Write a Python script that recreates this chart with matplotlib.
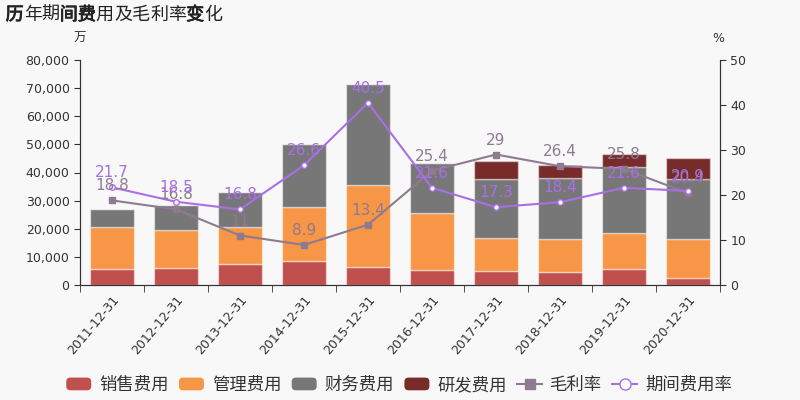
import matplotlib
matplotlib.use("Agg")
import matplotlib.pyplot as plt
import matplotlib.patheffects as pe
import matplotlib.transforms as mtransforms
import numpy as np
from matplotlib.ticker import FuncFormatter, MultipleLocator
from matplotlib.patches import FancyBboxPatch, Rectangle
from matplotlib.lines import Line2D
from matplotlib.legend_handler import HandlerPatch

plt.rcParams['font.family'] = ['DejaVu Sans', 'Noto Sans CJK SC']

categories = ["2011-12-31", "2012-12-31", "2013-12-31", "2014-12-31", "2015-12-31",
              "2016-12-31", "2017-12-31", "2018-12-31", "2019-12-31", "2020-12-31"]
sales = [5700, 6200, 7600, 8600, 6500, 5300, 5100, 4600, 5700, 2600]
admin = [15000, 13400, 13000, 19000, 28900, 20300, 11700, 11600, 12800, 13900]
finance = [6200, 8800, 12500, 22600, 35900, 17700, 20900, 21800, 23500, 21200]
rnd = [0, 0, 0, 0, 0, 0, 6300, 4700, 4500, 7300]
gross_margin = [18.8, 16.8, 11, 8.9, 13.4, 25.4, 29, 26.4, 25.8, 20.4]
expense_rate = [21.7, 18.5, 16.8, 26.6, 40.5, 21.6, 17.3, 18.4, 21.6, 20.9]
title = "历年期间费用及毛利率变化"
title_bold = "历间费变"

c_sales = "#c0504d"
c_admin = "#f79646"
c_fin = "#777777"
c_rnd = "#772c2a"
c_gm = "#8e7b8f"
c_er = "#a96fe6"
txt = "#333333"

fig = plt.figure(figsize=(8, 4), dpi=100, facecolor="#f8f8f8")
ax = fig.add_axes([0.1, 0.2875, 0.8, 0.5625])
ax.set_facecolor("#f8f8f8")
ax2 = ax.twinx()

x = np.arange(len(categories))
w = 0.7
ek = dict(edgecolor=(1, 1, 1, 0.45), linewidth=1.0, width=w, zorder=2)
b = np.zeros(len(x))
for vals, col in [(sales, c_sales), (admin, c_admin), (finance, c_fin), (rnd, c_rnd)]:
    v = np.array(vals, dtype=float)
    ax.bar(x, v, bottom=b, color=col, **ek)
    b = b + v

ax.set_ylim(0, 80000)
ax.set_xlim(-0.5, len(x) - 0.5)
ax.yaxis.set_major_locator(MultipleLocator(10000))
ax.yaxis.set_major_formatter(FuncFormatter(lambda v, p: f"{int(v):,}"))
ax.set_xticks(x)
ax.set_xticks(np.arange(len(x) + 1) - 0.5, minor=True)
ax.set_xticklabels(categories, rotation=50, ha="right", rotation_mode="anchor", fontsize=9, color=txt)
ax.tick_params(axis="x", which="major", length=0, pad=6)
ax.tick_params(axis="x", which="minor", length=5, color=txt)
ax.tick_params(axis="y", labelsize=9, colors=txt, length=4)

ax2.set_ylim(0, 50)
ax2.yaxis.set_major_locator(MultipleLocator(10))
ax2.tick_params(axis="y", labelsize=9, colors=txt, length=4)

for a in (ax, ax2):
    a.spines["top"].set_visible(False)
    a.spines["left"].set_color(txt)
    a.spines["right"].set_color(txt)
    a.spines["bottom"].set_color(txt)

ax2.plot(x, gross_margin, color=c_gm, lw=1.5, marker="s", ms=4, zorder=5)
ax2.plot(x, expense_rate, color=c_er, lw=1.5, marker="o", ms=4, mfc="white",
         mec=c_er, mew=1, zorder=6)
for xi, v in zip(x, gross_margin):
    ax2.annotate(f"{v:g}", (xi, v), xytext=(0, 5), textcoords="offset points",
                 ha="center", va="bottom", fontsize=11, color=c_gm, zorder=7)
for xi, v in zip(x, expense_rate):
    ax2.annotate(f"{v:g}", (xi, v), xytext=(0, 5), textcoords="offset points",
                 ha="center", va="bottom", fontsize=11, color=c_er, zorder=8)

# Title: full-width CJK glyphs advance exactly 1 em, place char by char
tcol = "#222222"
tsize = 13
bold_fx = [pe.withStroke(linewidth=0.6, foreground=tcol)]
for i, ch in enumerate(title):
    tr = mtransforms.offset_copy(fig.transFigure, fig=fig, x=i * tsize, y=0, units="points")
    fig.text(0.007, 0.94, ch, transform=tr, fontsize=tsize, color=tcol,
             va="bottom", ha="left", family=["Noto Sans CJK SC"],
             path_effects=bold_fx if ch in title_bold else None)

fig.text(0.1, 0.895, "万", fontsize=9, color=txt, ha="center", family=["Noto Sans CJK SC"])
fig.text(0.898, 0.895, "%", fontsize=9, color=txt, ha="center")


class RoundHandler(HandlerPatch):
    def create_artists(self, legend, orig_handle, xdescent, ydescent, width, height, fontsize, trans):
        p = FancyBboxPatch((-xdescent, -ydescent), width, height,
                           boxstyle="round,pad=0,rounding_size=3",
                           facecolor=orig_handle.get_facecolor(), edgecolor="none", transform=trans)
        return [p]


handles = [Rectangle((0, 0), 1, 1, facecolor=c) for c in (c_sales, c_admin, c_fin, c_rnd)]
handles += [Line2D([], [], color=c_gm, lw=1.5, marker="s", ms=7),
            Line2D([], [], color=c_er, lw=1.5, marker="o", ms=8, mfc="white", mec=c_er)]
labels = ["销售费用", "管理费用", "财务费用", "研发费用", "毛利率", "期间费用率"]
hm = {h: RoundHandler() for h in handles[:4]}
leg = fig.legend(handles, labels, loc="center", bbox_to_anchor=(0.499, 0.0375), ncol=6,
                 frameon=False, handlelength=1.44, handleheight=0.75,
                 columnspacing=0.6, handletextpad=0.45, handler_map=hm,
                 prop={"family": ["Noto Sans CJK SC"], "size": 12.5})
for t in leg.get_texts():
    t.set_color(txt)

fig.savefig("out.png", dpi=100, facecolor=fig.get_facecolor())
